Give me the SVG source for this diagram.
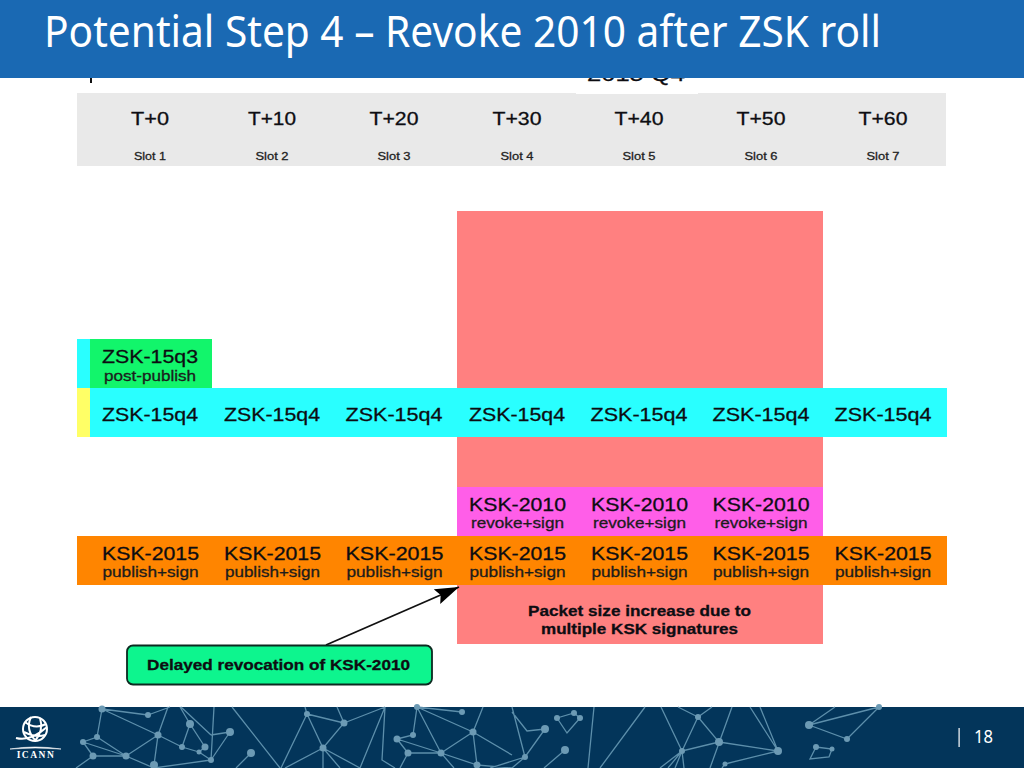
<svg xmlns="http://www.w3.org/2000/svg" width="1024" height="768" viewBox="0 0 1024 768">
<defs>
<marker id="ah" markerUnits="userSpaceOnUse" markerWidth="28" markerHeight="20" refX="24" refY="8" orient="auto"><path d="M0,0 L24,8 L0,16 L4,8 Z" fill="#000"/></marker>
<style>
text{font-family:"Liberation Sans",Arial,sans-serif;text-anchor:middle;fill:#0d0d12;stroke:#0d0d12;stroke-width:.3px}
.t{font-size:19px}
.s{font-size:11.5px;fill:#222;stroke:#222}
.k{font-size:19px}
.u{font-size:15px;fill:#1c1c1c;stroke:#1c1c1c}
.b{font-size:15px;font-weight:bold}
.w{fill:#fff;stroke:none}
.net line,.net path{stroke:#5d8fab;stroke-width:1.3;fill:none}
.net circle{fill:#6c9ab4}
</style>
</defs>
<rect width="1024" height="768" fill="#fff"/>
<g id="top-fragment">
<text x="636" y="81" style="font-size:21px" textLength="98" lengthAdjust="spacingAndGlyphs">2015 Q4</text>
<rect x="90" y="76" width="2" height="7" fill="#111"/>
</g>
<g id="timeline-header">
<rect x="77" y="93" width="869" height="73" fill="#e9e9e9"/>
<rect x="576" y="92" width="122" height="2" fill="#fff"/>
<text class="t" x="150" y="125" textLength="38" lengthAdjust="spacingAndGlyphs">T+0</text>
<text class="t" x="272" y="125" textLength="48" lengthAdjust="spacingAndGlyphs">T+10</text>
<text class="t" x="394" y="125" textLength="49" lengthAdjust="spacingAndGlyphs">T+20</text>
<text class="t" x="517" y="125" textLength="49" lengthAdjust="spacingAndGlyphs">T+30</text>
<text class="t" x="639" y="125" textLength="49" lengthAdjust="spacingAndGlyphs">T+40</text>
<text class="t" x="761" y="125" textLength="49" lengthAdjust="spacingAndGlyphs">T+50</text>
<text class="t" x="883" y="125" textLength="49" lengthAdjust="spacingAndGlyphs">T+60</text>
<text class="s" x="150" y="159.500" textLength="32" lengthAdjust="spacingAndGlyphs">Slot 1</text>
<text class="s" x="272" y="159.500" textLength="33" lengthAdjust="spacingAndGlyphs">Slot 2</text>
<text class="s" x="394" y="159.500" textLength="33" lengthAdjust="spacingAndGlyphs">Slot 3</text>
<text class="s" x="517" y="159.500" textLength="33" lengthAdjust="spacingAndGlyphs">Slot 4</text>
<text class="s" x="639" y="159.500" textLength="33" lengthAdjust="spacingAndGlyphs">Slot 5</text>
<text class="s" x="761" y="159.500" textLength="33" lengthAdjust="spacingAndGlyphs">Slot 6</text>
<text class="s" x="883" y="159.500" textLength="33" lengthAdjust="spacingAndGlyphs">Slot 7</text>
</g>
<g id="packet-size-region">
<rect x="457" y="211" width="366" height="433" fill="#ff8080"/>
<text class="b" x="639.500" y="616" textLength="223" lengthAdjust="spacingAndGlyphs">Packet size increase due to</text>
<text class="b" x="639.500" y="634" textLength="197" lengthAdjust="spacingAndGlyphs">multiple KSK signatures</text>
</g>
<g id="zsk-15q3">
<rect x="77" y="339" width="13" height="49" fill="#29ffff"/>
<rect x="90" y="339" width="122" height="49" fill="#12f56b"/>
<text class="k" x="150" y="363" textLength="96" lengthAdjust="spacingAndGlyphs">ZSK-15q3</text>
<text class="u" x="150" y="380.500" textLength="92" lengthAdjust="spacingAndGlyphs">post-publish</text>
</g>
<g id="zsk-15q4">
<rect x="77" y="388" width="13" height="49" fill="#ffff66"/>
<rect x="90" y="388" width="857" height="49" fill="#29ffff"/>
<text class="k" x="150" y="420.500" textLength="96" lengthAdjust="spacingAndGlyphs">ZSK-15q4</text>
<text class="k" x="272" y="420.500" textLength="96" lengthAdjust="spacingAndGlyphs">ZSK-15q4</text>
<text class="k" x="394" y="420.500" textLength="97" lengthAdjust="spacingAndGlyphs">ZSK-15q4</text>
<text class="k" x="517" y="420.500" textLength="96" lengthAdjust="spacingAndGlyphs">ZSK-15q4</text>
<text class="k" x="639" y="420.500" textLength="97" lengthAdjust="spacingAndGlyphs">ZSK-15q4</text>
<text class="k" x="761" y="420.500" textLength="97" lengthAdjust="spacingAndGlyphs">ZSK-15q4</text>
<text class="k" x="883" y="420.500" textLength="97" lengthAdjust="spacingAndGlyphs">ZSK-15q4</text>
</g>
<g id="ksk-2010">
<rect x="457" y="487" width="366" height="49" fill="#ff5ee8"/>
<text class="k" x="517.500" y="510.500" textLength="97" lengthAdjust="spacingAndGlyphs">KSK-2010</text>
<text class="k" x="639.500" y="510.500" textLength="97" lengthAdjust="spacingAndGlyphs">KSK-2010</text>
<text class="k" x="761" y="510.500" textLength="97" lengthAdjust="spacingAndGlyphs">KSK-2010</text>
<text class="u" x="517.500" y="528" textLength="93" lengthAdjust="spacingAndGlyphs">revoke+sign</text>
<text class="u" x="639.500" y="528" textLength="93" lengthAdjust="spacingAndGlyphs">revoke+sign</text>
<text class="u" x="761" y="528" textLength="93" lengthAdjust="spacingAndGlyphs">revoke+sign</text>
</g>
<g id="ksk-2015">
<rect x="77" y="536" width="870" height="49" fill="#ff8500"/>
<text class="k" x="150.500" y="560" textLength="97" lengthAdjust="spacingAndGlyphs">KSK-2015</text>
<text class="k" x="272.500" y="560" textLength="97" lengthAdjust="spacingAndGlyphs">KSK-2015</text>
<text class="k" x="394.500" y="560" textLength="98" lengthAdjust="spacingAndGlyphs">KSK-2015</text>
<text class="k" x="517.500" y="560" textLength="97" lengthAdjust="spacingAndGlyphs">KSK-2015</text>
<text class="k" x="639.500" y="560" textLength="97" lengthAdjust="spacingAndGlyphs">KSK-2015</text>
<text class="k" x="761" y="560" textLength="97" lengthAdjust="spacingAndGlyphs">KSK-2015</text>
<text class="k" x="883" y="560" textLength="97" lengthAdjust="spacingAndGlyphs">KSK-2015</text>
<text class="u" x="150.500" y="577" textLength="96" lengthAdjust="spacingAndGlyphs">publish+sign</text>
<text class="u" x="272.500" y="577" textLength="95" lengthAdjust="spacingAndGlyphs">publish+sign</text>
<text class="u" x="394.500" y="577" textLength="96" lengthAdjust="spacingAndGlyphs">publish+sign</text>
<text class="u" x="517.500" y="577" textLength="96" lengthAdjust="spacingAndGlyphs">publish+sign</text>
<text class="u" x="639.500" y="577" textLength="96" lengthAdjust="spacingAndGlyphs">publish+sign</text>
<text class="u" x="761" y="577" textLength="96" lengthAdjust="spacingAndGlyphs">publish+sign</text>
<text class="u" x="883" y="577" textLength="96" lengthAdjust="spacingAndGlyphs">publish+sign</text>
</g>
<g id="connectors">
<line x1="326" y1="645" x2="459" y2="587" stroke="#111" stroke-width="1.800" marker-end="url(#ah)"/>
</g>
<g id="delayed-revocation">
<rect x="127" y="645.500" width="305" height="39" rx="6" fill="#0df58e" stroke="#0c2a20" stroke-width="1.800"/>
<text class="b" x="278.500" y="670" textLength="263" lengthAdjust="spacingAndGlyphs">Delayed revocation of KSK-2010</text>
</g>
<g id="title-bar">
<rect width="1024" height="78" fill="#1a69b3"/>
<text class="w" x="44" y="47" style="font-family:'Noto Sans',sans-serif;font-size:43px;text-anchor:start" textLength="837" lengthAdjust="spacingAndGlyphs">Potential Step 4 – Revoke 2010 after ZSK roll</text>
</g>
<g id="footer">
<rect y="707" width="1024" height="61" fill="#03355a"/>
<g class="net">
<path d="M102,709 L148,715 M102,709 L97,737 L83,742 L93,756 M102,709 L158,735 L182,747 L199,752 L211,760 M97,737 L126,756 L83,742 M93,756 L126,756 M93,756 L76,768 M126,756 L158,735 L154,765 M126,756 L154,768 M148,715 L170,707 M158,735 L168,707 M182,747 L190,724 L205,747 L199,752 M190,724 L180,707 M211,735 L181,707 M211,735 L230,732 M211,760 L230,732 M211,760 L214,707 M211,760 L154,768 M232,707 L280,768 M251,753 L236,768 M307,714 L344,723 L323,748 L307,714 M307,714 L281,768 M344,723 L385,707 M344,723 L337,707 M323,748 L360,768 M323,748 L323,768 M323,748 L340,768 M323,748 L285,768 M305,707 L307,714 M385,707 L382,760 L395,768 M360,768 L385,707 M397,739 L413,735 L417,707 M397,739 L408,753 L441,753 L397,739 M408,753 L400,768 M417,707 L473,732 M417,707 L441,753 L454,768 M462,712 L417,707 M473,732 L441,753 M473,732 L483,707 M473,732 L477,765 M473,732 L512,755 M477,765 L512,768 M441,753 L477,765 M512,707 L525,757 M545,729 L527,731 L512,712 M545,729 L525,757 L512,768 M525,757 L490,768 M557,718 L574,713 L580,718 L567,733 L557,718 M565,750 L544,768 M594,707 L588,768 M645,707 L600,768 M698,717 L719,742 L682,751 L698,717 M698,717 L678,707 M698,717 L712,707 M661,707 L682,751 M682,751 L660,768 M682,751 L668,768 M682,751 L675,768 M682,751 L684,768 M732,707 L710,768 M719,742 L778,751 M725,764 L778,751 M725,764 L722,768 M778,751 L760,707 M778,751 L750,707 M809,725 L879,707 M809,725 L847,739 L879,707 M809,725 L835,707 M816,747 L832,749 L829,757 L810,759 L816,747"/>
<circle cx="102" cy="709" r="3.500"/><circle cx="148" cy="715" r="3"/><circle cx="97" cy="737" r="3"/><circle cx="83" cy="742" r="3"/><circle cx="93" cy="756" r="3.500"/><circle cx="126" cy="756" r="3.500"/><circle cx="158" cy="735" r="3.500"/><circle cx="190" cy="724" r="4"/><circle cx="182" cy="747" r="3"/><circle cx="205" cy="747" r="3.500"/><circle cx="199" cy="752" r="2.500"/><circle cx="211" cy="760" r="3"/><circle cx="230" cy="732" r="4"/><circle cx="251" cy="753" r="4"/><circle cx="154" cy="765" r="4"/><circle cx="307" cy="714" r="3"/><circle cx="344" cy="723" r="3.500"/><circle cx="323" cy="748" r="3.500"/><circle cx="397" cy="739" r="3.500"/><circle cx="413" cy="735" r="3"/><circle cx="408" cy="753" r="3.500"/><circle cx="441" cy="753" r="3.500"/><circle cx="473" cy="732" r="3.500"/><circle cx="477" cy="765" r="3.500"/><circle cx="462" cy="712" r="3"/><circle cx="417" cy="707" r="3"/><circle cx="545" cy="729" r="4"/><circle cx="557" cy="718" r="3"/><circle cx="574" cy="713" r="3"/><circle cx="580" cy="718" r="3"/><circle cx="525" cy="757" r="3"/><circle cx="565" cy="750" r="4"/><circle cx="698" cy="717" r="3"/><circle cx="719" cy="742" r="4"/><circle cx="682" cy="751" r="3"/><circle cx="778" cy="751" r="4"/><circle cx="725" cy="764" r="2.500"/><circle cx="809" cy="725" r="4"/><circle cx="847" cy="739" r="3"/><circle cx="879" cy="707" r="3"/><circle cx="816" cy="747" r="3"/><circle cx="832" cy="749" r="2.500"/>
</g>
<g id="icann-logo">
<circle cx="35" cy="729" r="12" fill="none" stroke="#fff" stroke-width="2"/>
<path d="M25,722 Q35,730 46,724 M24,732 Q36,738 45,735 M31,717 Q25,730 36,741 M40,718 Q44,730 35,741 M16,738 Q30,742 47,727" fill="none" stroke="#fff" stroke-width="2"/>
<path d="M10,749 Q35,745 61,749 Q35,747 10,749 Z" fill="#fff" stroke="#fff" stroke-width="0.600"/>
<text class="w" x="36" y="758" style="font-family:'Liberation Serif',serif;font-size:9.500px;font-weight:bold;letter-spacing:1.500px">ICANN</text>
</g>
<rect x="958.500" y="728" width="1.200" height="19" fill="#fff"/>
<text class="w" x="983.500" y="743" style="font-family:'Noto Sans',sans-serif;font-size:18px" textLength="19" lengthAdjust="spacingAndGlyphs">18</text>
</g>
</svg>
